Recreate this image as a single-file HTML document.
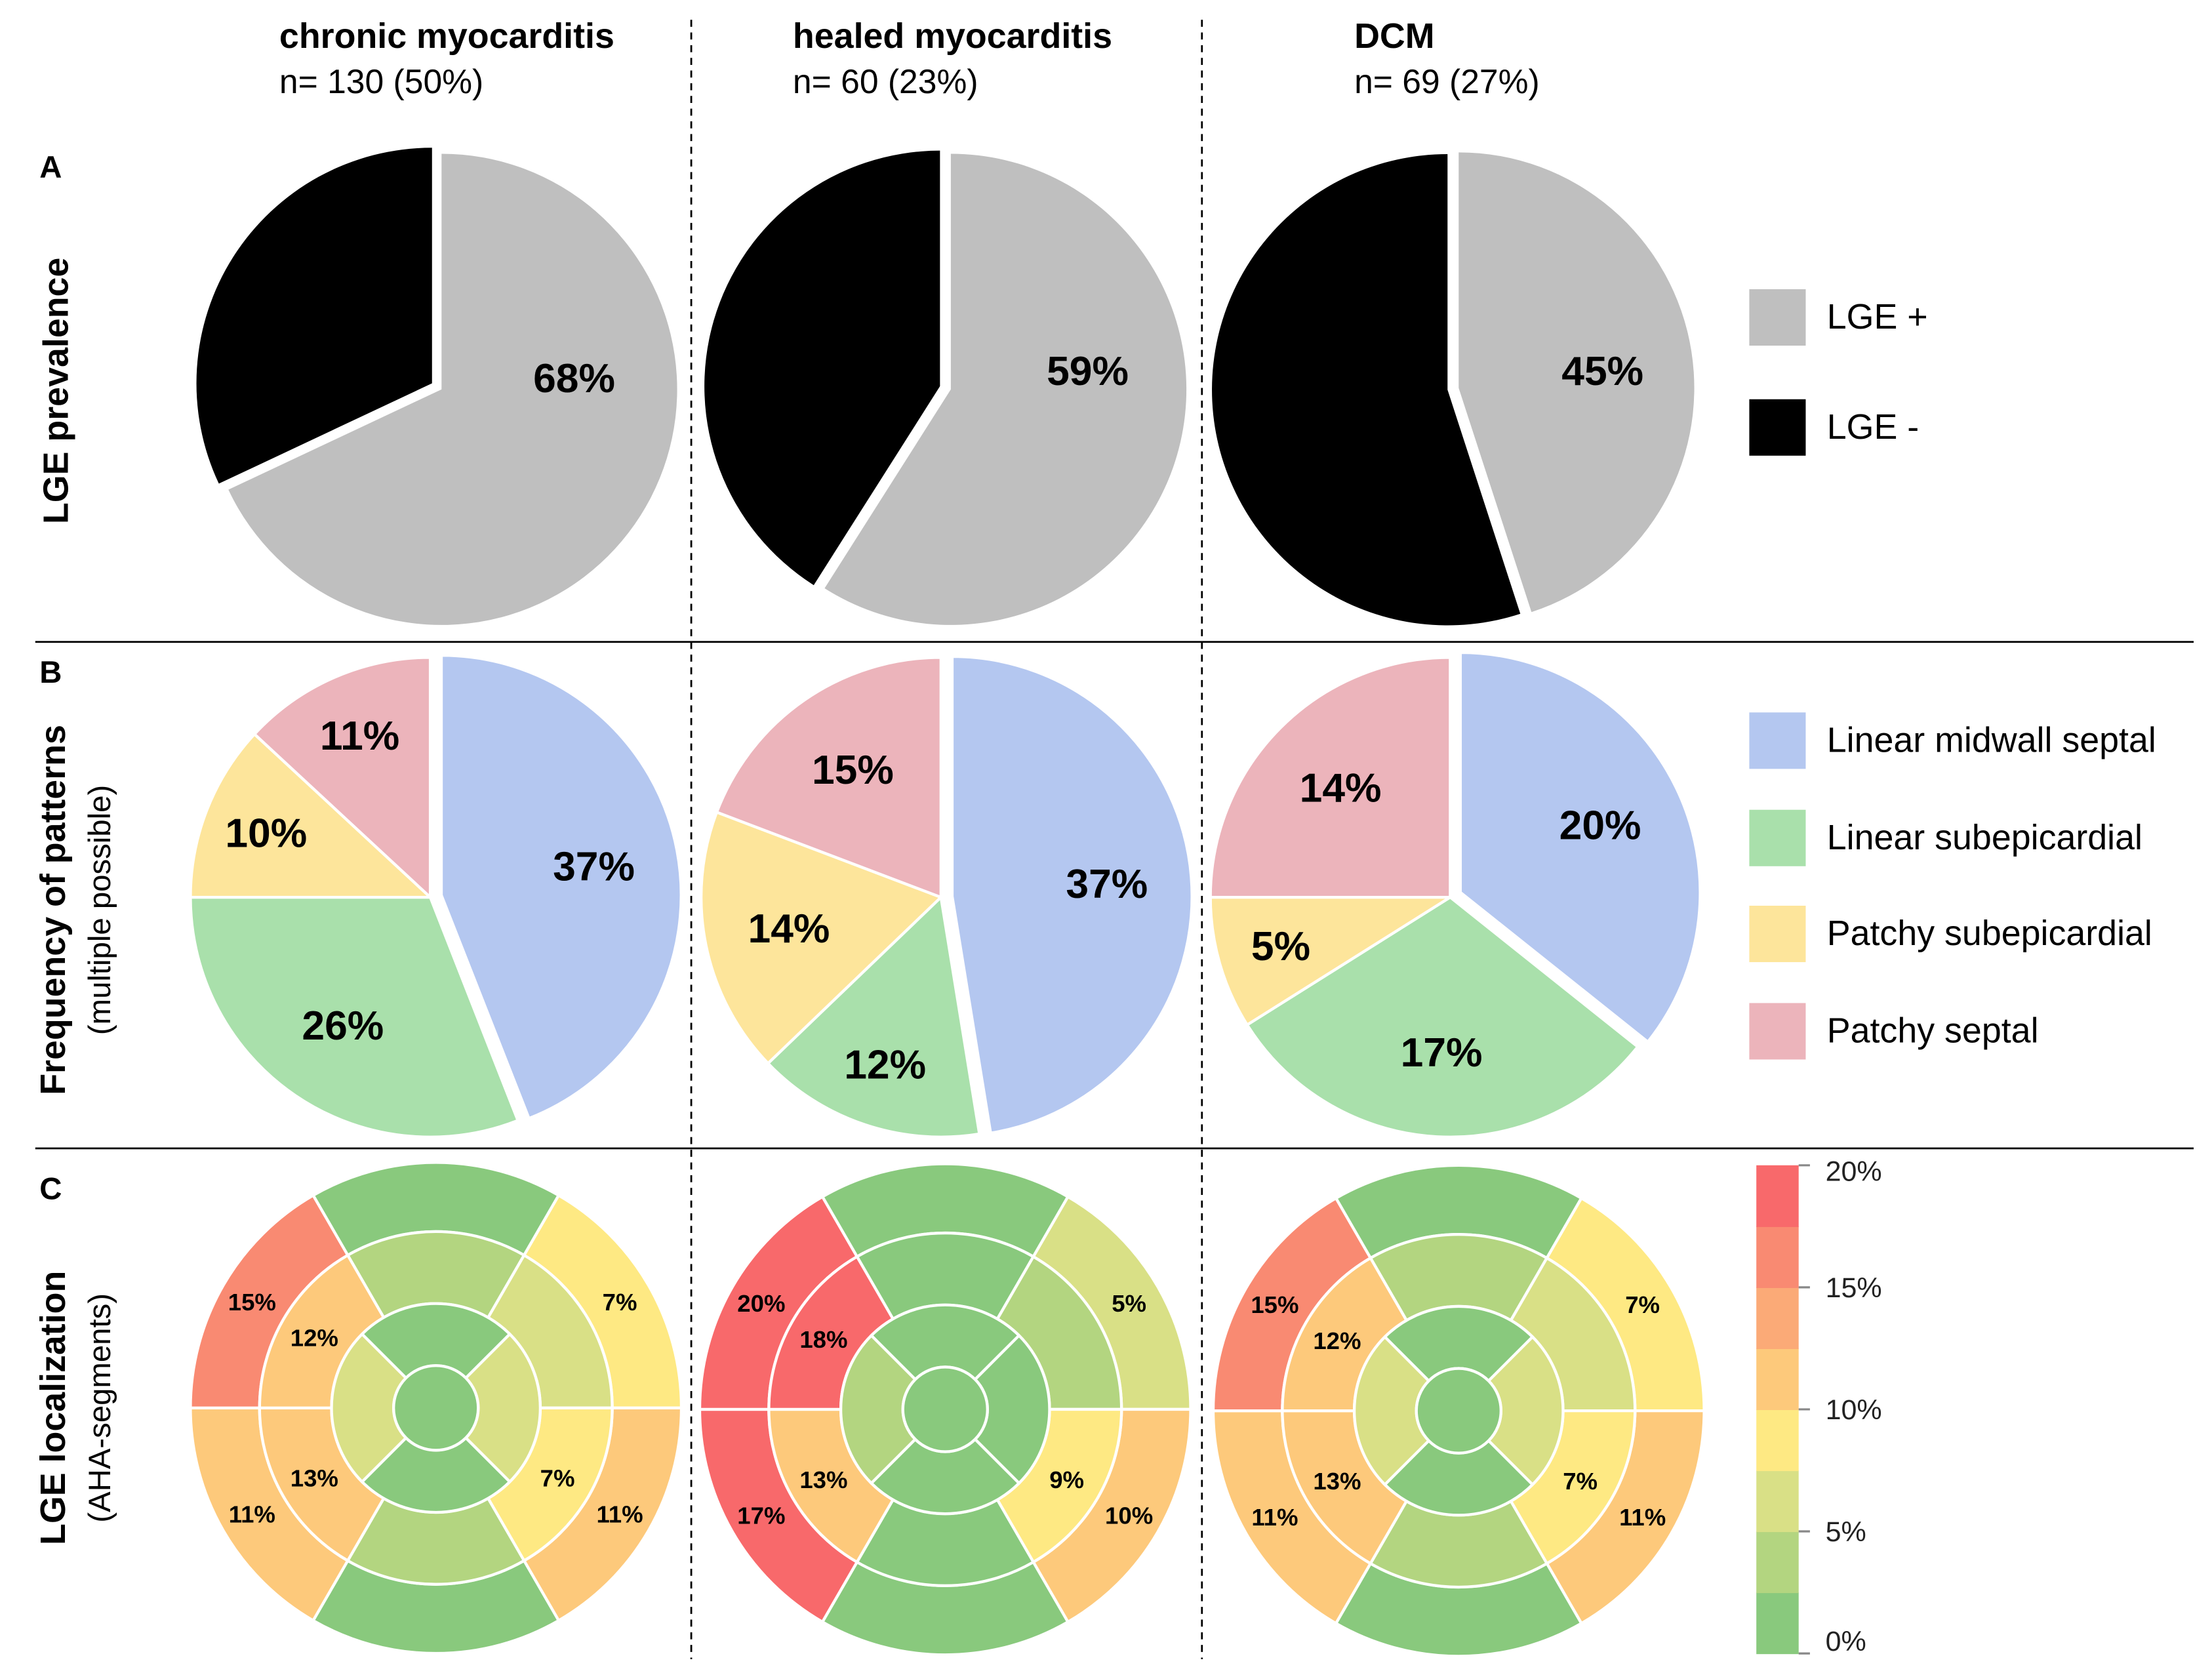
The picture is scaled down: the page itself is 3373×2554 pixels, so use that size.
<!DOCTYPE html>
<html><head><meta charset="utf-8"><style>
html,body{margin:0;padding:0;background:#fff}
svg{display:block}
text{font-family:"Liberation Sans",Arial,sans-serif}
</style></head><body>
<svg id="fig" width="3373" height="2554" viewBox="0 0 1568 1187.3" preserveAspectRatio="none" xmlns="http://www.w3.org/2000/svg">
<g>
<text x="198" y="34" font-size="25" font-weight="bold">chronic myocarditis</text>
<text x="198" y="66" font-size="24">n= 130 (50%)</text>
<text x="562" y="34" font-size="25" font-weight="bold">healed myocarditis</text>
<text x="562" y="66" font-size="24">n= 60 (23%)</text>
<text x="960" y="34" font-size="25" font-weight="bold">DCM</text>
<text x="960" y="66" font-size="24">n= 69 (27%)</text>
</g>
<g stroke="#000">
<line x1="25" y1="455" x2="1555" y2="455" stroke-width="1.3"/>
<line x1="25" y1="814" x2="1555" y2="814" stroke-width="1.3"/>
<line x1="490" y1="14" x2="490" y2="1176" stroke-width="1.3" stroke-dasharray="5,4"/>
<line x1="852" y1="14" x2="852" y2="1176" stroke-width="1.3" stroke-dasharray="5,4"/>
</g>
<g>
<text x="28" y="126" font-size="22" font-weight="bold">A</text>
<text x="28" y="484" font-size="22" font-weight="bold">B</text>
<text x="28" y="850" font-size="22" font-weight="bold">C</text>
<text transform="translate(48,277) rotate(-90)" text-anchor="middle" font-size="25" font-weight="bold">LGE prevalence</text>
<text transform="translate(46,645) rotate(-90)" text-anchor="middle" font-size="25" font-weight="bold">Frequency of patterns</text>
<text transform="translate(78,645) rotate(-90)" text-anchor="middle" font-size="22">(multiple possible)</text>
<text transform="translate(46,998) rotate(-90)" text-anchor="middle" font-size="25" font-weight="bold">LGE localization</text>
<text transform="translate(78,998) rotate(-90)" text-anchor="middle" font-size="22">(AHA-segments)</text>
</g>
<g font-size="25">
<rect x="1240" y="205" width="40" height="40" fill="#bfbfbf"/>
<text x="1295" y="233">LGE +</text>
<rect x="1240" y="283" width="40" height="40" fill="#000"/>
<text x="1295" y="311">LGE -</text>
</g>
<g font-size="25">
<rect x="1240" y="505" width="40" height="40" fill="#b4c7f0"/>
<text x="1295" y="533">Linear midwall septal</text>
<rect x="1240" y="574" width="40" height="40" fill="#a9e0ab"/>
<text x="1295" y="602">Linear subepicardial</text>
<rect x="1240" y="642" width="40" height="40" fill="#fde59b"/>
<text x="1295" y="670">Patchy subepicardial</text>
<rect x="1240" y="711" width="40" height="40" fill="#ecb4bb"/>
<text x="1295" y="739">Patchy septal</text>
</g>
<g id="charts"></g>
</svg>
<script>
// ---- Data ----
const groups = ["chronic", "healed", "dcm"];
const lgePositive = [68, 59, 45];
const patternNames = ["linear-midwall-septal", "linear-subepicardial", "patchy-subepicardial", "patchy-septal"];
const patternChronic = [37, 26, 10, 11];
const patternHealed = [37, 12, 14, 15];
const patternDcm = [20, 17, 5, 14];
// AHA segments (order: top, upper-right, lower-right, bottom, lower-left, upper-left)
const basalChronic = [1, 7, 11, 1, 11, 15];
const midChronic = [3.5, 4.8, 7, 3.5, 13, 12];
const apicalChronic = [1, 4.8, 1, 4.8]; // top, right, bottom, left
const apexChronic = [1];
const basalHealed = [1, 5, 10, 1, 17, 20];
const midHealed = [1, 3.5, 9, 1, 13, 18];
const apicalHealed = [1, 1, 1, 3.5];
const apexHealed = [1];
const basalDcm = [1, 7, 11, 1, 11, 15];
const midDcm = [3.5, 4.8, 7, 3.5, 13, 12];
const apicalDcm = [1, 4.8, 1, 4.8];
const apexDcm = [1];
const scaleTicks = ["0%", "5%", "10%", "15%", "20%"];

const NS = "http://www.w3.org/2000/svg";
const root = document.getElementById("charts");
function mk(tag, attrs, parent) {
  const e = document.createElementNS(NS, tag);
  for (const k in attrs) e.setAttribute(k, attrs[k]);
  (parent || root).appendChild(e);
  return e;
}
const rad = d => d * Math.PI / 180;
function pt(cx, cy, r, a) { return [cx + r * Math.cos(rad(a)), cy + r * Math.sin(rad(a))]; }
function sector(cx, cy, r, a0, a1) {
  const p0 = pt(cx, cy, r, a0), p1 = pt(cx, cy, r, a1);
  const large = (a1 - a0) > 180 ? 1 : 0;
  return `M${cx},${cy}L${p0[0]},${p0[1]}A${r},${r} 0 ${large} 1 ${p1[0]},${p1[1]}Z`;
}
function ring(cx, cy, r0, r1, a0, a1) {
  const p0 = pt(cx, cy, r1, a0), p1 = pt(cx, cy, r1, a1), q1 = pt(cx, cy, r0, a1), q0 = pt(cx, cy, r0, a0);
  return `M${p0[0]},${p0[1]}A${r1},${r1} 0 0 1 ${p1[0]},${p1[1]}L${q1[0]},${q1[1]}A${r0},${r0} 0 0 0 ${q0[0]},${q0[1]}Z`;
}
const explode = 8;

// ---- Row A: LGE prevalence pies ----
const pieACenters = [[310, 276], [671, 276], [1031, 275]];
const pieALabelPos = [[407, 268], [771, 263], [1136, 263]];
const pieR = 167;
lgePositive.forEach((v, i) => {
  const [cx, cy] = pieACenters[i];
  const g = mk("g", {});
  
  
  const aEnd = -90 + v / 100 * 360;
  const pos = mk("path", { d: sector(cx + 3, cy, pieR, -90, aEnd), fill: "#bfbfbf" }, g);
  
  
  const mid = (aEnd + 270) / 2;
  const [ox, oy] = pt(0, 0, explode, mid);
  const neg = mk("path", { d: sector(cx + 3 + ox, cy + oy, pieR, aEnd, 270), fill: "#000" }, g);
  
  
  const t = mk("text", { x: pieALabelPos[i][0], y: pieALabelPos[i][1] + 10, "text-anchor": "middle", "font-size": 29, "font-weight": "bold" }, g);
  
  
  t.textContent = v + "%";
});

// ---- Row B: pattern pies ----
const patternSets = [patternChronic, patternHealed, patternDcm];
const patternColors = ["#b4c7f0", "#a9e0ab", "#fde59b", "#ecb4bb"];
const pieBCenters = [[305, 636], [667, 636], [1028, 636]];
patternSets.forEach((vals, i) => {
  const [cx, cy] = pieBCenters[i];
  const total = vals.reduce((a, b) => a + b, 0);
  const g = mk("g", {});
  
  
  let a = -90;
  vals.forEach((v, j) => {
    const span = v / total * 360;
    const mid = a + span / 2;
    let ox = 0, oy = 0;
    if (j === 0) { [ox, oy] = pt(0, 0, explode, mid); }
    const p = mk("path", { d: sector(cx + ox, cy + oy, 170, a, a + span), fill: patternColors[j], stroke: "#fff", "stroke-width": 2 }, g);
    
    
    const lr = span < 60 ? 125 : 110;
    const [lx, ly] = pt(cx + ox, cy + oy, lr, mid);
    const t = mk("text", { x: lx, y: ly + 10, "text-anchor": "middle", "font-size": 29, "font-weight": "bold" }, g);
    
    
    t.textContent = v + "%";
    a += span;
  });
});

// ---- Row C: bullseyes ----
const binColors = ["#89c97d", "#b3d580", "#d9e086", "#fee983", "#fdc97b", "#fbaa77", "#f98a72", "#f8696b"];
function colorFor(v) {
  const th = [2.5, 4.5, 7, 10, 13.5, 15, 17];
  let i = 0; while (i < th.length && v >= th[i]) i++;
  return binColors[i];
}
const bullseyeData = [
  [basalChronic, midChronic, apicalChronic, apexChronic],
  [basalHealed, midHealed, apicalHealed, apexHealed],
  [basalDcm, midDcm, apicalDcm, apexDcm]
];
const bullCenters = [[309, 998], [670, 999], [1034, 1000]];
const R = [174, 125, 74, 30];
bullseyeData.forEach((d, i) => {
  const [cx, cy] = bullCenters[i];
  const g = mk("g", {});
  
  
  const rings = [[d[0], R[1], R[0], 240], [d[1], R[2], R[1], 240], [d[2], R[3], R[2], 225]];
  rings.forEach(([vals, r0, r1, start], k) => {
    const span = 360 / vals.length;
    vals.forEach((v, j) => {
      const a0 = start + j * span, a1 = a0 + span;
      const p = mk("path", { d: ring(cx, cy, r0, r1, a0, a1), fill: colorFor(v), stroke: "#fff", "stroke-width": 2 }, g);
      
      
      if (v >= 5) {
        const [lx, ly] = pt(cx, cy, (r0 + r1) / 2 + (k === 0 ? 1 : 0), (a0 + a1) / 2);
        const t = mk("text", { x: lx, y: ly + 6, "text-anchor": "middle", "font-size": 17, "font-weight": "bold" }, g);
        
        
        t.textContent = Math.round(v) + "%";
      }
    });
  });
  const c = mk("circle", { cx: cx, cy: cy, r: R[3], fill: colorFor(d[3][0]), stroke: "#fff", "stroke-width": 2 }, g);
  
  
});

// ---- Color scale ----
const cb = mk("g", {});


const cbTop = 826, cbBot = 1172, cbX = 1245, cbW = 30;
const binH = (cbBot - cbTop) / binColors.length;
binColors.forEach((col, i) => {
  const r = mk("rect", { x: cbX, y: cbBot - (i + 1) * binH, width: cbW, height: binH + 0.5, fill: col }, cb);
  
  
});
scaleTicks.forEach((lab, i) => {
  const y = cbBot - i * (cbBot - cbTop) / (scaleTicks.length - 1);
  const l = mk("line", { x1: cbX + cbW, x2: cbX + cbW + 8, y1: y, y2: y, stroke: "#888", "stroke-width": 1.5 }, cb);
  
  
  const t = mk("text", { x: 1294, y: y + (i === 0 ? -2 : i === scaleTicks.length - 1 ? 11 : 7), "font-size": 20, fill: "#222" }, cb);
  
  
  t.textContent = lab;
});
</script>
</body></html>
